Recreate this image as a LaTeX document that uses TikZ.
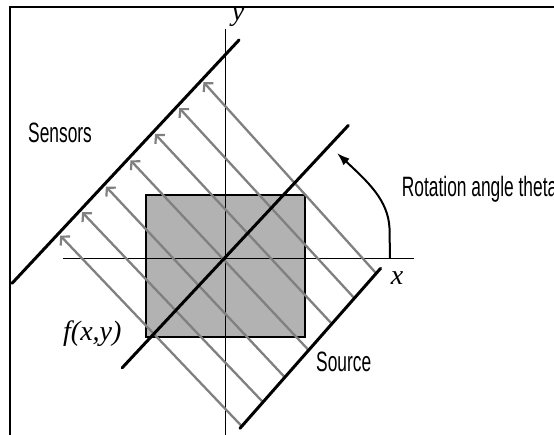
\documentclass[tikz,border=0pt]{standalone}
\usepackage{fontspec}
\setmainfont{Liberation Serif}
\newfontfamily\lblfont[FakeStretch=0.62]{Liberation Sans}
\usetikzlibrary{arrows.meta}
\definecolor{raygray}{gray}{0.5}
\definecolor{boxgray}{gray}{0.70}
\begin{document}
\begin{tikzpicture}[x=1pt,y=-1pt,
  frameline/.style={line width=2pt,black},
  axisline/.style={line width=1.3pt,black},
  detector/.style={line width=3pt,black,line cap=round},
  ray/.style={line width=2.3pt,draw=raygray,-{Straight Barb[length=6pt,width=13pt,line width=2.2pt]}},
  rotarrow/.style={line width=2pt,black,-{Latex[length=13pt,width=9pt]}},
  lbl/.style={font=\lblfont\fontsize{28}{28}\selectfont,inner sep=0pt},
  mathlbl/.style={font=\itshape\fontsize{28}{28}\selectfont,inner sep=0pt}]
\useasboundingbox (0,0) rectangle (554,435);
\clip (0,0) rectangle (554,435);
\fill[white] (0,0) rectangle (554,435);
% frame
\draw[frameline] (10,445) -- (10,7) -- (560,7);
% object f(x,y)
\fill[boxgray] (146,195) rectangle (305,337);
\draw[line width=1.3pt] (146,195) rectangle (305,337);
% axes
\coordinate (O) at (225.7,258.3);
\coordinate (xa0) at (62.7,258.3);
\coordinate (xa1) at (414,258.3);
\coordinate (ya0) at (225.7,29);
\coordinate (ya1) at (225.7,440);
\draw[axisline] (xa0) -- (xa1);
\draw[axisline] (ya0) -- (ya1);
% rotated frame: u along detectors, v along rays
\begin{scope}[shift={(O)}, x={(0.682pt,0.731pt)}, y={(0.670pt,-0.742pt)}]
  \coordinate (s1) at (102,120.8);
  \coordinate (s2) at (69,121.8);
  \coordinate (s3) at (35,122.8);
  \coordinate (s4) at (0,123.8);
  \coordinate (s5) at (-36,124.9);
  \coordinate (s6) at (-69,125.8);
  \coordinate (s7) at (-101,126.8);
  \coordinate (a1) at (102,-137);
  \coordinate (a2) at (66.5,-137);
  \coordinate (a3) at (31,-137);
  \coordinate (a4) at (-5,-137);
  \coordinate (a5) at (-41,-137);
  \coordinate (a6) at (-76,-137);
  \coordinate (a7) at (-108,-137);
  \foreach \i in {1,...,7} {\draw[ray] (s\i) -- (a\i);}
  \coordinate (sen0) at (-176.1,-139.7);
  \coordinate (sen1) at (156.8,-139.7);
  \coordinate (cen0) at (-150.7,-1);
  \coordinate (cen1) at (180.8,-1);
  \coordinate (src0) at (-103.7,126.9);
  \coordinate (src1) at (108.7,120.6);
  \draw[detector] (sen0) -- (sen1);
  \draw[detector] (cen0) -- (cen1);
  \draw[detector] (src0) -- (src1);
\end{scope}
% rotation arrow
\coordinate (r0) at (390,258.3);
\coordinate (r1) at (389.5,228);
\coordinate (r2) at (337,153);
\draw[rotarrow] (r0) -- (r1) .. controls (388,200) and (368,182) .. (r2);
% labels
\node[lbl, anchor=base west] (sensors) at (28,143) {Sensors};
\node[lbl, anchor=base west] (rot) at (401.7,197) {Rotation angle theta};
\node[lbl, anchor=base west] (source) at (316,371.5) {Source};
\node[mathlbl, anchor=base west] (f) at (63,341) {f(x,y)};
\node[mathlbl, anchor=base] (xl) at (397,285) {x};
\node[mathlbl, anchor=base] (yl) at (238,21) {y};
\end{tikzpicture}
\end{document}
